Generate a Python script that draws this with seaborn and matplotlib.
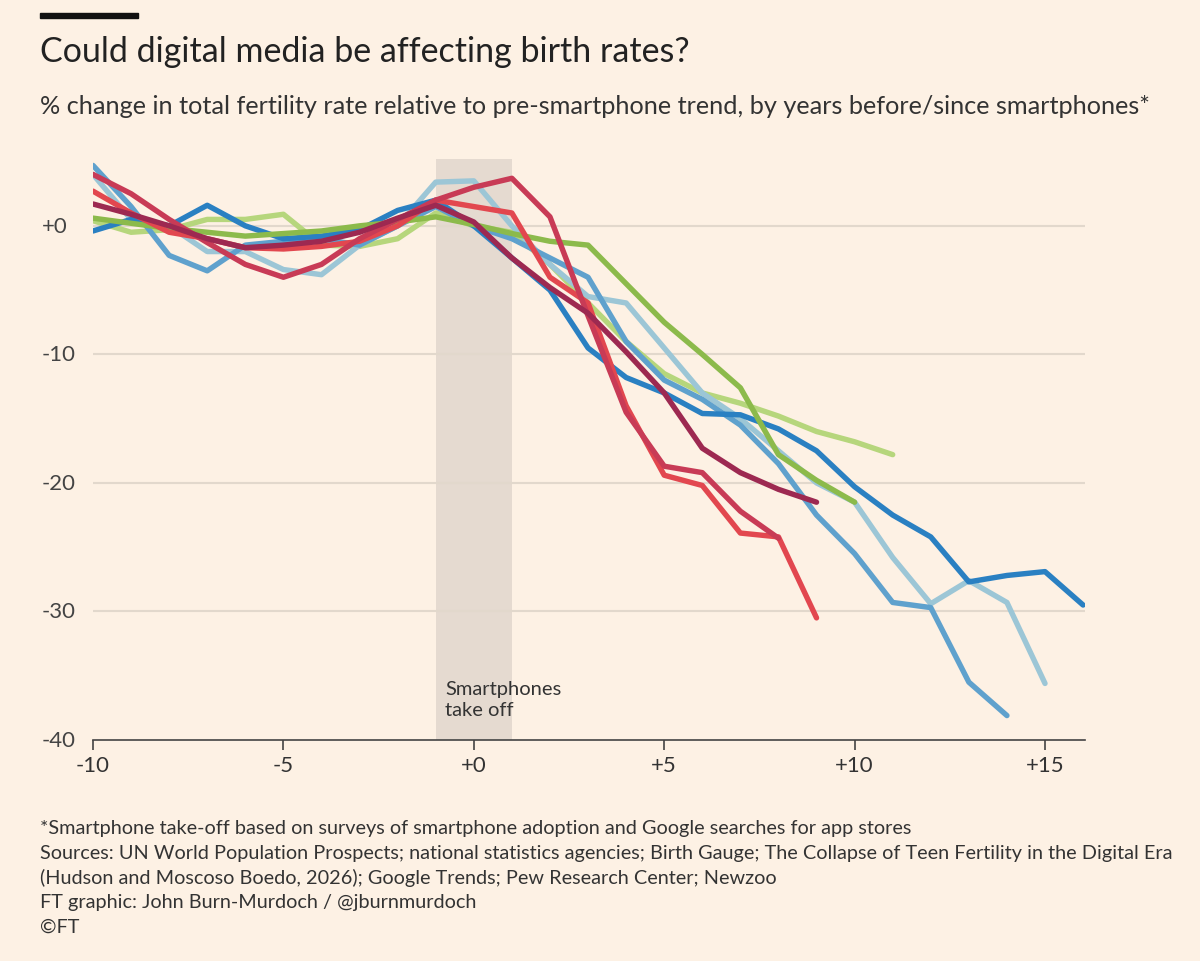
import numpy as np
import pandas as pd
import matplotlib
matplotlib.use("Agg")
import matplotlib.pyplot as plt
import seaborn as sns
from matplotlib.transforms import blended_transform_factory

dark_blue = [-0.4, 0.5, 0.0, 1.6, 0.0, -1.0, -0.8, -0.3, 1.2, 2.0, 0.0, -2.5, -5.0, -9.5, -11.8, -13.0, -14.6, -14.7, -15.8, -17.5, -20.3, -22.5, -24.2, -27.7, -27.2, -26.9, -29.5]
mid_blue = [4.7, 1.5, -2.3, -3.5, -1.5, -1.2, -1.0, -1.5, 0.0, 1.5, 0.0, -1.0, -2.5, -4.0, -9.0, -12.0, -13.5, -15.5, -18.5, -22.5, -25.5, -29.3, -29.7, -35.5, -38.1]
light_blue = [4.0, 0.5, 0.0, -2.0, -2.0, -3.4, -3.8, -1.5, 0.0, 3.4, 3.5, 0.0, -3.0, -5.5, -6.0, -9.5, -13.0, -15.0, -17.5, -20.0, -21.5, -25.8, -29.4, -27.6, -29.3, -35.6]
green = [0.6, 0.2, -0.2, -0.5, -0.8, -0.6, -0.4, 0.0, 0.3, 0.7, 0.1, -0.6, -1.2, -1.5, -4.5, -7.5, -10.0, -12.6, -17.8, -19.8, -21.5]
light_green = [0.4, -0.5, -0.3, 0.5, 0.5, 0.9, -1.5, -1.6, -1.0, 1.0, 0.0, -0.5, -3.0, -6.0, -9.0, -11.5, -13.0, -13.8, -14.8, -16.0, -16.8, -17.8]
rose = [4.0, 2.5, 0.5, -1.3, -3.0, -4.0, -3.0, -1.0, 0.5, 2.0, 3.0, 3.7, 0.7, -7.0, -14.5, -18.7, -19.2, -22.2, -24.3]
red = [2.7, 1.0, -0.5, -1.0, -1.7, -1.8, -1.6, -1.2, 0.0, 2.0, 1.5, 1.0, -4.0, -6.0, -14.0, -19.4, -20.2, -23.9, -24.2, -30.5]
maroon = [1.7, 0.9, 0.0, -1.0, -1.7, -1.5, -1.2, -0.5, 0.6, 1.6, 0.3, -2.5, -4.8, -6.8, -9.8, -13.0, -17.3, -19.2, -20.5, -21.5]

series = {"light_green": light_green, "light_blue": light_blue, "mid_blue": mid_blue,
          "dark_blue": dark_blue, "green": green, "red": red, "rose": rose, "maroon": maroon}
palette = {"light_green": "#b6d67c", "light_blue": "#9cc6d6", "mid_blue": "#5fa1cd",
           "dark_blue": "#2a80c2", "green": "#8cba4b", "red": "#e2474f", "rose": "#c83b56", "maroon": "#9d2951"}

rows = []
for k, v in series.items():
    for i, y in enumerate(v):
        rows.append({"year": -10 + i, "pct": y, "series": k})
df = pd.DataFrame(rows)

bg = "#fdf1e4"
sns.set_theme(style="white")
plt.rcParams['font.family'] = ['Lato', 'DejaVu Sans']

fig = plt.figure(figsize=(12, 9.62), dpi=100, facecolor=bg)
ax = fig.add_axes([0.0775, 1 - 741 / 962, (1085 - 93) / 1200, (741 - 160) / 962])
ax.set_facecolor(bg)

ax.axvspan(-1, 1, color="#e5dad0", zorder=0, lw=0)
for g in [0, -10, -20, -30]:
    ax.axhline(g, color="#e2d8cc", lw=1.5, zorder=0.5)

sns.lineplot(data=df, x="year", y="pct", hue="series", palette=palette, lw=3.9,
             legend=False, ax=ax, sort=False, estimator=None)

ax.set_xlim(-10, 16.05)
ax.set_ylim(-40, 5.2)
for s in ["top", "right", "left"]:
    ax.spines[s].set_visible(False)
ax.spines["bottom"].set_color("#444444")
ax.spines["bottom"].set_linewidth(1.2)
xt = [-10, -5, 0, 5, 10, 15]
ax.set_xticks(xt)
ax.set_xticklabels(["-10", "-5", "+0", "+5", "+10", "+15"], fontsize=16, color="#333333")
ax.tick_params(axis="x", length=7, width=1.2, color="#444444", bottom=True, pad=4)
ax.set_yticks([])
ax.set_xlabel("")
ax.set_ylabel("")

tr = blended_transform_factory(fig.transFigure, ax.transData)
for v, lab in zip([0, -10, -20, -30, -40], ["+0", "-10", "-20", "-30", "-40"]):
    fig.text(0.035, v, lab, transform=tr, fontsize=16, color="#444444", ha="left", va="center")

ax.text(-0.75, -35.3, "Smartphones\ntake off", fontsize=14.5, color="#333333", ha="left", va="top",
        linespacing=1.35)

fig.patches.append(plt.Rectangle((40 / 1200, 1 - 19 / 962), 98 / 1200, 5 / 962,
                                 transform=fig.transFigure, color="#111111"))
fig.text(40 / 1200, 1 - 52 / 962, "Could digital media be affecting birth rates?", fontsize=24.5,
         color="#222222", va="center", ha="left")
fig.text(40 / 1200, 1 - 107 / 962,
         "% change in total fertility rate relative to pre-smartphone trend, by years before/since smartphones*",
         fontsize=18.2, color="#333333", va="center", ha="left")

foot = ["*Smartphone take-off based on surveys of smartphone adoption and Google searches for app stores",
        "Sources: UN World Population Prospects; national statistics agencies; Birth Gauge; The Collapse of Teen Fertility in the Digital Era",
        "(Hudson and Moscoso Boedo, 2026); Google Trends; Pew Research Center; Newzoo",
        "FT graphic: John Burn-Murdoch / @jburnmurdoch",
        "\u00a9FT"]
for i, t in enumerate(foot):
    fig.text(40 / 1200, 1 - (829 + i * 24.5) / 962, t, fontsize=14.3, color="#333333", va="center", ha="left")

fig.savefig("out.png", dpi=100, facecolor=bg)
